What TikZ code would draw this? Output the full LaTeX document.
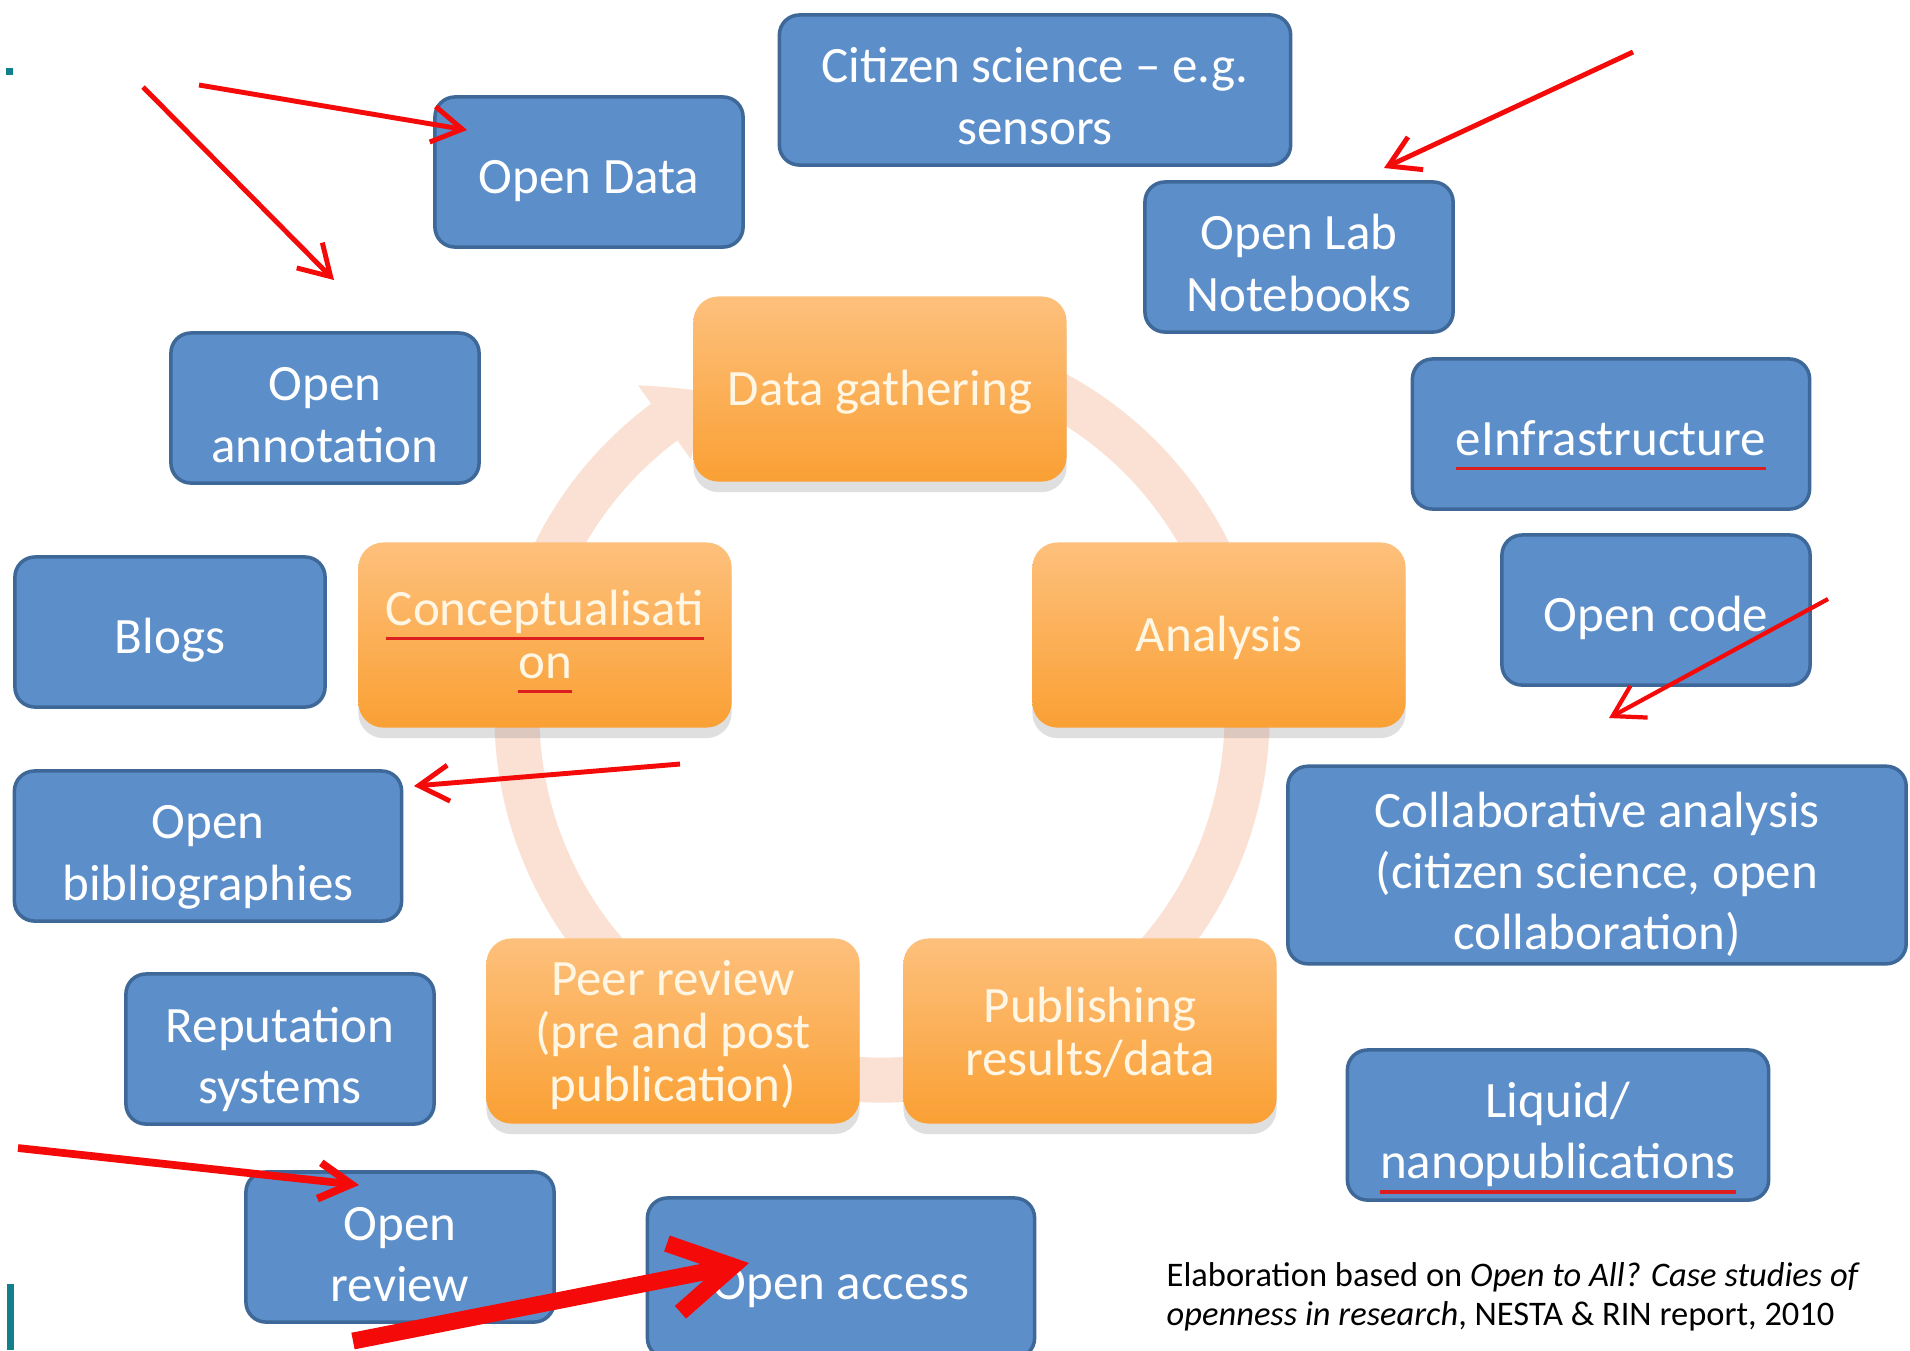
\documentclass[tikz,border=0pt]{standalone}
\usepackage{fontspec}
\setmainfont{Carlito}
\usepackage{tikz}
\usetikzlibrary{arrows.meta,bending,shadows}

\definecolor{boxblue}{RGB}{92,142,202}
\definecolor{boxedge}{RGB}{62,104,152}
\definecolor{oratop}{RGB}{253,192,124}
\definecolor{orabot}{RGB}{250,160,52}
\definecolor{oratext}{RGB}{255,246,228}
\definecolor{ringcol}{RGB}{251,225,211}
\definecolor{spellred}{RGB}{220,30,30}
\definecolor{tealmark}{RGB}{18,128,140}
\definecolor{arrred}{RGB}{245,10,10}

\newsavebox\spellbox
\newcommand\spellerr[1]{\sbox\spellbox{#1}\rlap{\textcolor{spellred}{\rule[-0.6ex]{\wd\spellbox}{0.9pt}}}\usebox\spellbox}
% first-line struts for the boxes with several lines
\newcommand\bstrut{\rule{0pt}{17.4pt}}
\newcommand\ostrut{\rule{0pt}{14pt}}

\begin{document}
\begin{tikzpicture}[x=0.01cm, y=-0.01cm, inner sep=0pt]

    \tikzstyle{blu}=[rectangle, rounded corners=0.2cm, fill=boxblue, draw=boxedge, line width=1pt, text=white, align=center, minimum width=3.08cm, minimum height=1.5cm, font=\fontsize{14.5}{17.4}\selectfont, execute at begin node={\rule{0pt}{16.4pt}}, execute at end node={\rule[-4pt]{0pt}{0pt}}] \tikzstyle{ora}=[rectangle, rounded corners=0.25cm, top color=oratop, bottom color=orabot, draw=none, text=oratext, align=center, minimum width=3.73cm, minimum height=1.85cm, font=\fontsize{14.5}{15.1}\selectfont, execute at begin node={\rule{0pt}{13.6pt}}, execute at end node={\rule[-4pt]{0pt}{0pt}}, drop shadow={opacity=0.25, shadow xshift=0pt, shadow yshift=-3pt}]
    \tikzstyle{ring}=[line width=0.45cm, draw=ringcol, -{Triangle[width=0.87cm, length=0.55cm, bend]}] \tikzstyle{rarr}=[draw=arrred, line width=1.4pt, -{Straight Barb[length=0.3cm, width=0.36cm]}]

    \fill[white] (0,0) rectangle (1910,1350);
    \useasboundingbox (0,0) rectangle (1910,1350);

    % cycle ring behind the stages
    \draw[ring] (882,715) ++(-75:365) arc[start angle=-75, end angle=242, radius=365];

    % open science tools
    \node[blu, minimum width=5.11cm] (CS) at (1035,90) {\bstrut Citizen science -- e.g.\\sensors};
    \node[blu] (OD) at (589,172) {Open Data}; \node[blu] (OL) at (1299,257) {\bstrut Open Lab\\Notebooks}; \node[blu] (OA) at (325,408) {\bstrut Open\\annotation};
    \node[blu, minimum width=3.97cm] (EI) at (1611,434) {\spellerr{eInfrastructure}}; \node[blu, minimum width=3.10cm] (BL) at (170,632) {Blogs};
    \node[blu] (OC) at (1656,610) {Open code}; \node[blu, minimum width=3.87cm] (BI) at (208,846) {\bstrut Open\\bibliographies};
    \node[blu, minimum width=6.18cm, minimum height=1.9cm] (CA) at (1597,865) {\bstrut Collaborative analysis\\(citizen science, open\\collaboration)};
    \node[blu] (RS) at (280,1049) {\bstrut Reputation\\systems}; \node[blu, minimum width=4.21cm] (LN) at (1558,1125) {\bstrut Liquid/\\\spellerr{nanopublications}};
    \node[blu] (OR) at (400,1247) {\bstrut Open\\review}; \node[blu, minimum width=3.87cm, minimum height=1.6cm] (OX) at (841,1278) {Open access};

    % research stages
    \node[ora] (DG) at (880,389) {Data gathering}; \node[ora] (CO) at (545,635) {\ostrut\spellerr{Conceptualisati}\\\spellerr{on}};
    \node[ora] (AN) at (1219,635) {Analysis}; \node[ora] (PR) at (673,1031) {\ostrut Peer review\\(pre and post\\publication)};
    \node[ora] (PU) at (1090,1031) {\ostrut Publishing\\results/data};

    % red pointers
    \coordinate (t1) at (199,85); \coordinate (h1) at (467,130); \coordinate (t2) at (143,87); \coordinate (h2) at (334,280);
    \coordinate (t3) at (1633,52); \coordinate (h3) at (1384,168); \coordinate (t4) at (1828,599); \coordinate (h4) at (1609,718);
    \coordinate (t5) at (680,764); \coordinate (h5) at (414,786); \coordinate (t6) at (18,1148); \coordinate (h6) at (359,1185);
    \coordinate (t7) at (353,1341); \coordinate (h7) at (749,1263);
    \draw[rarr] (t1) -- (h1); \draw[rarr] (t2) -- (h2); \draw[rarr] (t3) -- (h3);
    \draw[rarr, line width=1.2pt] (t4) -- (h4); \draw[rarr] (t5) -- (h5);
    \draw[rarr, line width=2.2pt, -{Straight Barb[length=0.32cm, width=0.36cm]}] (t6) -- (h6);
    \draw[rarr, line width=4.8pt, -{Straight Barb[length=0.6cm, width=0.7cm]}] (t7) -- (h7);

    \fill[tealmark] (6,68) rectangle (13,75); \fill[tealmark] (7,1284) rectangle (14,1350);

    \node[anchor=north west, align=left, font=\fontsize{9.8}{10.9}\selectfont] (SRC) at (1166,1262) {Elaboration based on \textit{Open to All? Case studies of}\\\textit{openness in research}, NESTA \& RIN report, 2010};
  \end{tikzpicture}
\end{document}
